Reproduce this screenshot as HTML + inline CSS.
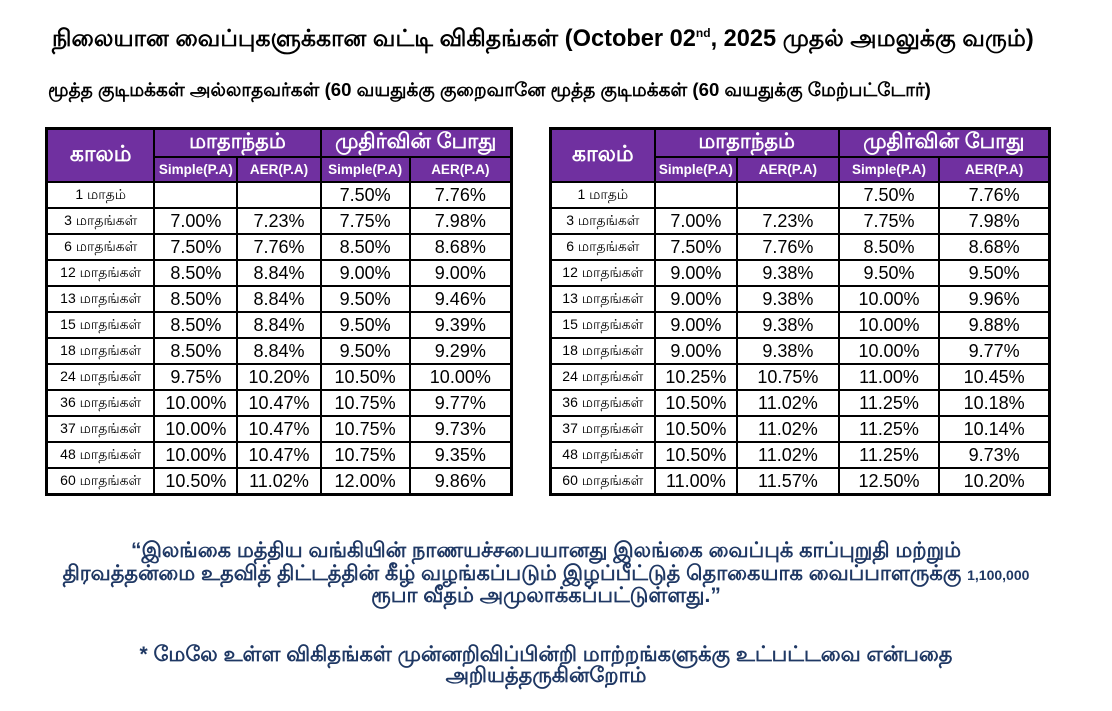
<!DOCTYPE html>
<html><head><meta charset="utf-8"><style>
body{margin:0;width:1112px;height:711px;background:#fff;font-family:"Liberation Sans",sans-serif;position:relative;overflow:hidden}
.t{position:absolute;white-space:nowrap;color:#000}
table{position:absolute;border-collapse:separate;border-spacing:2px;background:#000;border:1px solid #000;table-layout:fixed}
td{background:#fff;text-align:center;padding:0;font-size:18px;height:24px;overflow:hidden;white-space:nowrap}
td.l{font-size:14px}
td.h{background:#7030a0;color:#fff;font-weight:bold;font-size:21px;height:22px}
td.s{background:#7030a0;color:#fff;font-weight:bold;font-size:13.5px;height:23px}
td.k{background:#7030a0;color:#fff;font-weight:bold;font-size:22px}
.b{position:absolute;left:0;width:1092px;text-align:center;color:#1f3864;font-weight:bold;font-size:21px;white-space:nowrap}
</style></head><body>
<div class="t" style="left:52px;top:26px;font-size:23.6px;font-weight:bold">நிலையான வைப்புகளுக்கான வட்டி விகிதங்கள் (October 02<sup style="font-size:12px">nd</sup>, 2025 முதல் அமலுக்கு வரும்)</div>
<div class="t" style="left:48px;top:79px;font-size:18.6px;font-weight:bold">மூத்த குடிமக்கள் அல்லாதவர்கள் (60 வயதுக்கு குறைவானே மூத்த குடிமக்கள் (60 வயதுக்கு மேற்பட்டோர்)</div>

<table style="left:45px;top:127px;width:468px">
<colgroup><col style="width:104px"><col style="width:80px"><col style="width:80px"><col style="width:86px"><col style="width:98px"></colgroup>
<tr><td class="k" rowspan="2">காலம்</td><td class="h" colspan="2">மாதாந்தம்</td><td class="h" colspan="2">முதிர்வின் போது</td></tr>
<tr><td class="s">Simple(P.A)</td><td class="s">AER(P.A)</td><td class="s">Simple(P.A)</td><td class="s">AER(P.A)</td></tr>
<tr><td class="l">1 மாதம்</td><td></td><td></td><td>7.50%</td><td>7.76%</td></tr>
<tr><td class="l">3 மாதங்கள்</td><td>7.00%</td><td>7.23%</td><td>7.75%</td><td>7.98%</td></tr>
<tr><td class="l">6 மாதங்கள்</td><td>7.50%</td><td>7.76%</td><td>8.50%</td><td>8.68%</td></tr>
<tr><td class="l">12 மாதங்கள்</td><td>8.50%</td><td>8.84%</td><td>9.00%</td><td>9.00%</td></tr>
<tr><td class="l">13 மாதங்கள்</td><td>8.50%</td><td>8.84%</td><td>9.50%</td><td>9.46%</td></tr>
<tr><td class="l">15 மாதங்கள்</td><td>8.50%</td><td>8.84%</td><td>9.50%</td><td>9.39%</td></tr>
<tr><td class="l">18 மாதங்கள்</td><td>8.50%</td><td>8.84%</td><td>9.50%</td><td>9.29%</td></tr>
<tr><td class="l">24 மாதங்கள்</td><td>9.75%</td><td>10.20%</td><td>10.50%</td><td>10.00%</td></tr>
<tr><td class="l">36 மாதங்கள்</td><td>10.00%</td><td>10.47%</td><td>10.75%</td><td>9.77%</td></tr>
<tr><td class="l">37 மாதங்கள்</td><td>10.00%</td><td>10.47%</td><td>10.75%</td><td>9.73%</td></tr>
<tr><td class="l">48 மாதங்கள்</td><td>10.00%</td><td>10.47%</td><td>10.75%</td><td>9.35%</td></tr>
<tr><td class="l">60 மாதங்கள்</td><td>10.50%</td><td>11.02%</td><td>12.00%</td><td>9.86%</td></tr>
</table>

<table style="left:549px;top:127px;width:502px">
<colgroup><col style="width:101px"><col style="width:80px"><col style="width:99px"><col style="width:98px"><col style="width:107px"></colgroup>
<tr><td class="k" rowspan="2">காலம்</td><td class="h" colspan="2">மாதாந்தம்</td><td class="h" colspan="2">முதிர்வின் போது</td></tr>
<tr><td class="s">Simple(P.A)</td><td class="s">AER(P.A)</td><td class="s">Simple(P.A)</td><td class="s">AER(P.A)</td></tr>
<tr><td class="l">1 மாதம்</td><td></td><td></td><td>7.50%</td><td>7.76%</td></tr>
<tr><td class="l">3 மாதங்கள்</td><td>7.00%</td><td>7.23%</td><td>7.75%</td><td>7.98%</td></tr>
<tr><td class="l">6 மாதங்கள்</td><td>7.50%</td><td>7.76%</td><td>8.50%</td><td>8.68%</td></tr>
<tr><td class="l">12 மாதங்கள்</td><td>9.00%</td><td>9.38%</td><td>9.50%</td><td>9.50%</td></tr>
<tr><td class="l">13 மாதங்கள்</td><td>9.00%</td><td>9.38%</td><td>10.00%</td><td>9.96%</td></tr>
<tr><td class="l">15 மாதங்கள்</td><td>9.00%</td><td>9.38%</td><td>10.00%</td><td>9.88%</td></tr>
<tr><td class="l">18 மாதங்கள்</td><td>9.00%</td><td>9.38%</td><td>10.00%</td><td>9.77%</td></tr>
<tr><td class="l">24 மாதங்கள்</td><td>10.25%</td><td>10.75%</td><td>11.00%</td><td>10.45%</td></tr>
<tr><td class="l">36 மாதங்கள்</td><td>10.50%</td><td>11.02%</td><td>11.25%</td><td>10.18%</td></tr>
<tr><td class="l">37 மாதங்கள்</td><td>10.50%</td><td>11.02%</td><td>11.25%</td><td>10.14%</td></tr>
<tr><td class="l">48 மாதங்கள்</td><td>10.50%</td><td>11.02%</td><td>11.25%</td><td>9.73%</td></tr>
<tr><td class="l">60 மாதங்கள்</td><td>11.00%</td><td>11.57%</td><td>12.50%</td><td>10.20%</td></tr>
</table>

<div class="b" style="top:539px">“இலங்கை மத்திய வங்கியின் நாணயச்சபையானது இலங்கை வைப்புக் காப்புறுதி மற்றும்</div>
<div class="b" style="top:562px">திரவத்தன்மை உதவித் திட்டத்தின் கீழ் வழங்கப்படும் இழப்பீட்டுத் தொகையாக வைப்பாளருக்கு <span style="font-size:14px">1,100,000</span></div>
<div class="b" style="top:584px">ரூபா வீதம் அமுலாக்கப்பட்டுள்ளது.”</div>
<div class="b" style="top:643px">* மேலே உள்ள விகிதங்கள் முன்னறிவிப்பின்றி மாற்றங்களுக்கு உட்பட்டவை என்பதை</div>
<div class="b" style="top:664px">அறியத்தருகின்றோம்</div>
</body></html>
